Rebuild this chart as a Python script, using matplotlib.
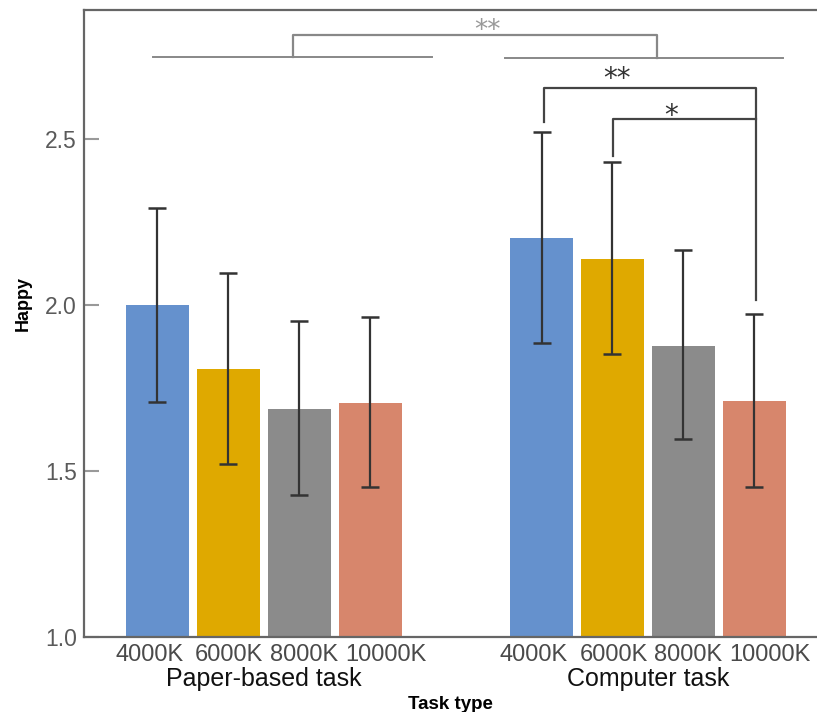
import numpy as np
import matplotlib.pyplot as plt
from matplotlib import transforms

# Mean "Happy" score and 95% CI per colour temperature, two task types
cct_labels = ['4000K', '6000K', '8000K', '10000K']
task_labels = ['Paper-based task', 'Computer task']
paper_mean = [2.00, 1.807, 1.687, 1.705]
paper_lo = [1.708, 1.521, 1.428, 1.452]
paper_hi = [2.292, 2.096, 1.952, 1.964]
computer_mean = [2.202, 2.139, 1.877, 1.711]
computer_lo = [1.886, 1.852, 1.596, 1.452]
computer_hi = [2.521, 2.431, 2.166, 1.973]

colors = ['#6591CD', '#DFA900', '#8B8B8B', '#D7866C']
group_gap = 5.416
bar_w = 0.89

fig = plt.figure(figsize=(8.17, 7.12), dpi=100)
ax = fig.add_axes([0.1028, 0.1053, 0.8972, 0.8806])

means = [paper_mean, computer_mean]
los = [paper_lo, computer_lo]
his = [paper_hi, computer_hi]
xs_all = []
for g in range(2):
    xs = np.arange(4) + g * group_gap
    xs_all.extend(xs)
    m = np.array(means[g])
    err = np.vstack((m - np.array(los[g]), np.array(his[g]) - m))
    ax.bar(xs, m - 1.0, bottom=1.0, width=bar_w, color=colors, zorder=2)
    ax.errorbar(xs, m, yerr=err, fmt='none', ecolor='#333333', elinewidth=1.6,
                capsize=6.5, capthick=1.8, zorder=3)

ax.set_ylim(1.0, 2.8886)
ax.set_xlim(-1.035, 9.30)
ax.set_yticks([1.0, 1.5, 2.0, 2.5])
ax.set_yticklabels(['1.0', '1.5', '2.0', '2.5'])

ax.set_xticks(xs_all)
ax.set_xticklabels(cct_labels * 2)
ax.tick_params(axis='x', length=0, pad=5, labelsize=17, labelcolor='#4a4a4a')
ax.tick_params(axis='y', direction='in', length=11, width=1.5, color='#999999',
               pad=5, labelsize=16.5, labelcolor='#5a5a5a')
for lab in ax.get_yticklabels():
    lab.set_family(['Liberation Sans Narrow', 'Liberation Sans'])
shifts = [-8, 1, 5, 16] * 2
for lab, dx in zip(ax.get_xticklabels(), shifts):
    lab.set_family('Liberation Sans')
    lab.set_transform(lab.get_transform() +
                      transforms.ScaledTranslation(dx / 100, 0, fig.dpi_scale_trans))

for side in ['left', 'top', 'bottom']:
    ax.spines[side].set_color('#666666')
    ax.spines[side].set_linewidth(1.6)
ax.spines['right'].set_visible(False)

# group labels under the tick labels
group_x = [1.5, 1.5 + group_gap]
for gx, name in zip(group_x, task_labels):
    ax.text(gx, 0.0463, name, transform=transforms.blended_transform_factory(ax.transData, fig.transFigure),
            ha='center', va='center', fontsize=18, color='#111111', family='Liberation Sans')
fig.text(0.551, 0.011, 'Task type', ha='center', va='center', fontsize=13.5,
         fontweight='bold', family='Liberation Sans')
fig.text(0.028, 0.574, 'Happy', ha='center', va='center', rotation=90, fontsize=13,
         fontweight='bold', family='Liberation Sans')

# significance brackets: task type main effect
lc = '#888888'
ax.plot([-0.06, 3.87], [2.747, 2.747], color=lc, lw=1.4, clip_on=False)
ax.plot([4.90, 8.82], [2.744, 2.744], color=lc, lw=1.4, clip_on=False)
ax.plot([1.91, 1.91, 7.04, 7.04], [2.747, 2.813, 2.813, 2.744], color=lc, lw=1.6)
ax.text(4.66, 2.804, '**', ha='center', va='baseline', fontsize=19, color='#999999',
        family='DejaVu Sans')

# within computer task comparisons against 10000K
bc = '#444444'
xb, xy, xr = xs_all[4], xs_all[5], xs_all[7]
ax.plot([xb + 0.03, xb + 0.03, xr + 0.03, xr + 0.03], [2.551, 2.654, 2.654, 2.015],
        color=bc, lw=1.6)
ax.plot([xy + 0.01, xy + 0.01, xr + 0.03], [2.449, 2.560, 2.560], color=bc, lw=1.6)
ax.text(6.48, 2.657, '**', ha='center', va='baseline', fontsize=20, color='#333333',
        family='DejaVu Sans')
ax.text(7.24, 2.546, '*', ha='center', va='baseline', fontsize=20, color='#333333',
        family='DejaVu Sans')

fig.savefig('out.png', dpi=100)
